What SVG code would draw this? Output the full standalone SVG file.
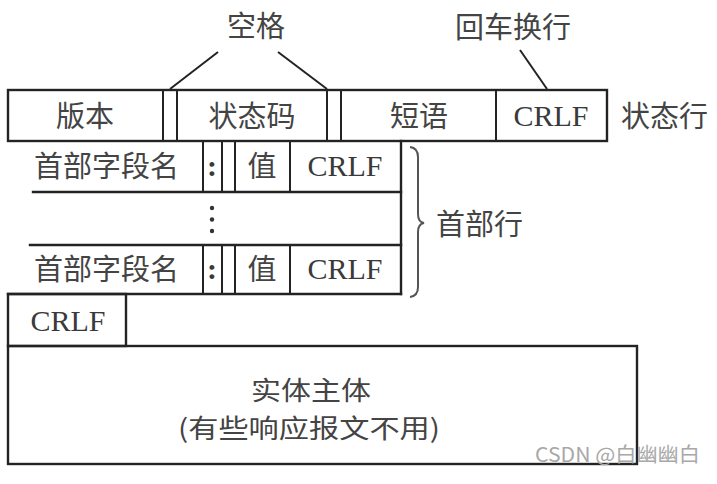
<svg xmlns="http://www.w3.org/2000/svg" width="717" height="484" viewBox="0 0 717 484">
<style>
.ln{stroke:#232323;stroke-width:2.4;fill:none;stroke-linecap:square}
.th{stroke:#232323;stroke-width:2;fill:none}
.cj{font-family:"Noto Sans CJK SC","Noto Sans",sans-serif;font-size:29px;fill:#444}
.bd{font-family:"Noto Sans CJK SC","Noto Sans",sans-serif;font-size:26px;fill:#444}
.rm{font-family:"Liberation Serif","Times New Roman",serif;font-size:30px;fill:#3a3a3a}
.c{text-anchor:middle}
.wm{font-family:"Noto Sans CJK SC","Liberation Sans",sans-serif;font-size:20px;fill:#a8a8a8}
</style>
<rect width="717" height="484" fill="#fff"/>
<g id="status-line">
<rect class="ln" x="8" y="90" width="599" height="51"/>
<line class="th" x1="163" y1="90" x2="163" y2="141"/>
<line class="th" x1="177" y1="90" x2="177" y2="141"/>
<line class="th" x1="327" y1="90" x2="327" y2="141"/>
<line class="th" x1="341" y1="90" x2="341" y2="141"/>
<line class="th" x1="496" y1="90" x2="496" y2="141"/>
<text class="cj c" x="85" y="127">版本</text>
<text class="cj c" x="252" y="127">状态码</text>
<text class="cj c" x="419" y="127">短语</text>
<text class="rm c" x="551" y="126">CRLF</text>
<text class="cj" x="621" y="127">状态行</text>
</g>
<g id="header-lines">
<line class="ln" x1="33" y1="192" x2="401" y2="192"/>
<line class="ln" x1="30" y1="245" x2="401" y2="245"/>
<line class="ln" x1="401" y1="141" x2="401" y2="294"/>
<line class="th" x1="203" y1="141" x2="203" y2="192"/>
<line class="th" x1="222" y1="141" x2="222" y2="192"/>
<line class="th" x1="235" y1="141" x2="235" y2="192"/>
<line class="th" x1="290" y1="141" x2="290" y2="192"/>
<line class="th" x1="203" y1="245" x2="203" y2="294"/>
<line class="th" x1="222" y1="245" x2="222" y2="294"/>
<line class="th" x1="235" y1="245" x2="235" y2="294"/>
<line class="th" x1="290" y1="245" x2="290" y2="294"/>
<text class="cj" x="34" y="177">首部字段名</text>
<text class="rm c" x="212" y="176" font-weight="bold">:</text>
<text class="cj c" x="262" y="177">值</text>
<text class="rm c" x="345" y="176">CRLF</text>
<circle cx="212" cy="208" r="2.2" fill="#333"/>
<circle cx="212" cy="219.5" r="2.2" fill="#333"/>
<circle cx="212" cy="231" r="2.2" fill="#333"/>
<text class="cj" x="34" y="280">首部字段名</text>
<text class="rm c" x="212" y="279" font-weight="bold">:</text>
<text class="cj c" x="262" y="280">值</text>
<text class="rm c" x="345" y="279">CRLF</text>
<path d="M410,147 Q418,148 418,157 L418,214 Q418,222 424,223 Q418,224 418,232 L418,287 Q418,296 410,297" stroke="#555" stroke-width="2" fill="none"/>
<text class="cj" x="436" y="235">首部行</text>
</g>
<g id="blank-line">
<rect class="ln" x="8" y="294" width="118" height="52"/>
<line class="ln" x1="8" y1="294" x2="401" y2="294"/>
<text class="rm c" x="68" y="331">CRLF</text>
</g>
<g id="entity-body">
<rect class="ln" x="8" y="346" width="629" height="118"/>
<text class="bd c" x="311" y="400" textLength="120" lengthAdjust="spacingAndGlyphs">实体主体</text>
<text class="bd c" x="309" y="438" textLength="262" lengthAdjust="spacingAndGlyphs">(有些响应报文不用)</text>
</g>
<g id="labels">
<text class="cj c" x="256" y="37">空格</text>
<text class="cj c" x="513" y="38">回车换行</text>
</g>
<g id="connectors">
<line class="th" x1="218" y1="52" x2="170" y2="89"/>
<line class="th" x1="278" y1="52" x2="327" y2="89"/>
<line class="th" x1="520" y1="50" x2="547" y2="89"/>
</g>
<text class="wm" x="535" y="462" textLength="165" lengthAdjust="spacingAndGlyphs">CSDN @白幽幽白</text>
</svg>
